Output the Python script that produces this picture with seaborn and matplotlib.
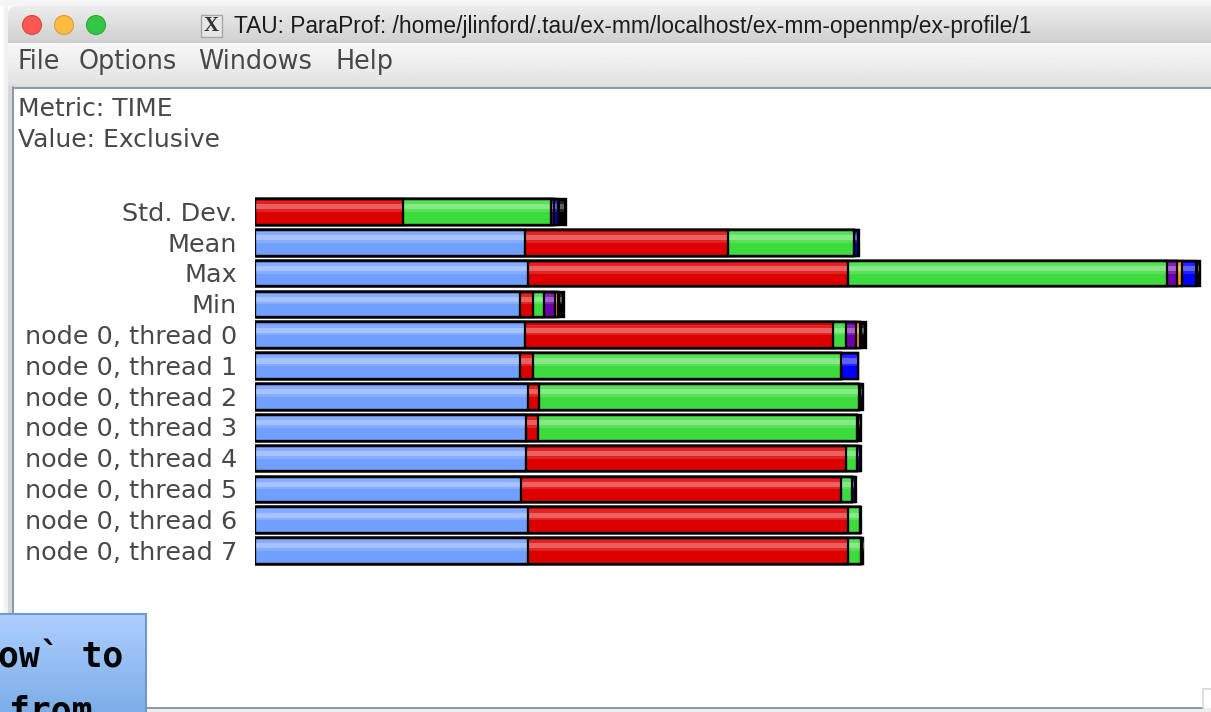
import numpy as np
import matplotlib
matplotlib.use("Agg")
import matplotlib.pyplot as plt
from matplotlib.patches import Rectangle, FancyBboxPatch, Circle
from matplotlib.transforms import ScaledTranslation
import seaborn as sns

# ---- data (segment lengths, one value per row) ----
labels = ["Std. Dev.", "Mean", "Max", "Min",
          "node 0, thread 0", "node 0, thread 1", "node 0, thread 2", "node 0, thread 3",
          "node 0, thread 4", "node 0, thread 5", "node 0, thread 6", "node 0, thread 7"]
periwinkle = [0, 270, 273, 265, 270, 265, 273, 271, 271, 266, 273, 273]
red        = [148, 203, 320, 13, 308, 13, 11, 12, 320, 320, 320, 320]
green      = [148, 126, 319, 11, 13, 308, 320, 319, 11, 11, 12, 13]
purple     = [3, 0, 10, 11, 10, 0, 0, 0, 0, 0, 0, 0]
orange     = [0, 0, 5, 3, 4, 0, 0, 0, 0, 0, 0, 0]
blue       = [4, 4, 14, 0, 0, 17, 0, 0, 3, 3, 0, 0]
black      = [8, 1, 4, 6, 6, 0, 4, 4, 1, 1, 1, 2]
series = [periwinkle, red, green, purple, orange, blue, black]
colors = ["#719FFF", "#DD0000", "#3EDB3E", "#6E00AA", "#FF9A00", "#0000FF", "#000000"]

title_text = "TAU: ParaProf: /home/jlinford/.tau/ex-mm/localhost/ex-mm-openmp/ex-profile/1"
menu_items = ["File", "Options", "Windows", "Help"]
metric_lines = ["Metric: TIME", "Value: Exclusive"]
note_lines = ["ow`\u00a0to", "from"]

W, H = 1211, 712
TEXT = "#484848"
sns.set_theme(style="white")
plt.rcParams["font.family"] = ["DejaVu Sans"]
fig = plt.figure(figsize=(W / 100, H / 100), dpi=100, facecolor="white")

# ---- window chrome, in pixel coordinates ----
bg = fig.add_axes([0, 0, 1, 1], zorder=0)
bg.set_xlim(0, W); bg.set_ylim(H, 0); bg.axis("off")
bg.add_patch(Rectangle((0, 0), W, 6, fc="#F6F6F6", ec="none", zorder=0))
bg.add_patch(Rectangle((4, 6), 4, 706, fc="#F2F2F2", ec="none", zorder=0))
window = FancyBboxPatch((8, 6), W + 30, H + 30, boxstyle="round,pad=0,rounding_size=10",
                        fc="#D8D8D8", ec="none", zorder=1)
bg.add_patch(window)
def grad(y0, y1, c0, c1, x0=8, x1=W):
    g = np.linspace(c0, c1, 32).reshape(-1, 1)
    im = bg.imshow(g, extent=(x0, x1, y1, y0), cmap="gray", vmin=0, vmax=1, aspect="auto", zorder=1)
    im.set_clip_path(window)
grad(6, 43, 0.925, 0.815)
grad(43, 82, 0.97, 0.895)
grad(82, 87, 0.90, 0.86)
bg.add_patch(Rectangle((13, 88), W - 13, 620, fc="white", ec="none", zorder=2))
bg.plot([13, W], [87.5, 87.5], color="#8A98AC", lw=1.4, zorder=3)
bg.plot([13, 13], [87, 708], color="#8A98AC", lw=1.4, zorder=3)
bg.plot([13, 1203], [707.5, 707.5], color="#8A98AC", lw=1.4, zorder=3)
bg.add_patch(Rectangle((8, 708), W, 4, fc="#EDEDED", ec="none", zorder=2))
bg.plot([1203, 1203, W], [708, 689, 689], color="#D8D8D8", lw=1.2, zorder=3)
for cx, fc, ec in [(32, "#FC5753", "#DF4744"), (64, "#FDBC40", "#DE9F34"), (96, "#33C748", "#27AA35")]:
    bg.add_patch(Circle((cx, 25), 9.5, fc=fc, ec=ec, lw=0.8, zorder=4))
bg.add_patch(Rectangle((201, 15), 21, 22, fc="#E6E6E6", ec="#A8A8A8", lw=1, zorder=4))
bg.text(211.5, 26, "X", ha="center", va="center", fontsize=15, family="Liberation Serif",
        fontweight="bold", color="#333333", zorder=5)
bg.text(234, 26, title_text, ha="left", va="center", fontsize=16.4, family="Liberation Sans",
        color="#1C1C1C", zorder=5)
for x, t in zip([18, 79, 198, 335], menu_items):
    bg.text(x, 62, t, ha="left", va="center", fontsize=18.4, color=TEXT, zorder=5)
for y, t in zip([109, 140], metric_lines):
    bg.text(18, y, t, ha="left", va="center", fontsize=18, color=TEXT, zorder=5)

# ---- tooltip box cut off by the image edge ----
g = np.linspace(0, 1, 64).reshape(-1, 1, 1) * (np.array([0.49, 0.68, 0.91]) - np.array([0.68, 0.81, 1.0])) + np.array([0.68, 0.81, 1.0])
bg.imshow(g, extent=(0, 146, H, 614), aspect="auto", zorder=6)
bg.add_patch(Rectangle((-3, 614), 149, 110, fc="none", ec="#6C9BCB", lw=1.5, zorder=7))
for x, y, t in zip([-2, 9], [657, 711], note_lines):
    bg.text(x, y, t, ha="left", va="center", fontsize=25, fontweight="bold",
            family="DejaVu Sans Mono", color="#050505", zorder=8, clip_on=True)
bg.set_xlim(0, W); bg.set_ylim(H, 0)

# ---- chart ----
px_left, px_right = 255, 1205
px_top, px_bottom = 190, 580
row0, step = 212, 30.82
ax = fig.add_axes([px_left / W, 1 - px_bottom / H, (px_right - px_left) / W, (px_bottom - px_top) / H], zorder=2)
ax.patch.set_alpha(0)

cum = np.cumsum(np.array(series, dtype=float), axis=0)
for i in range(len(series) - 1, -1, -1):
    sns.barplot(x=cum[i], y=labels, order=labels, orient="h", color=colors[i], saturation=1,
                width=0.83, edgecolor="black", linewidth=1.7, ax=ax)

# glossy strip inside every segment, taken from the drawn bars
n_rows, n_series = len(labels), len(series)
patches = list(ax.patches)
for s in range(n_series):
    # bars were drawn longest-first, so series s sits at block (n_series - 1 - s)
    block = patches[(n_series - 1 - s) * n_rows:(n_series - s) * n_rows]
    prev = patches[(n_series - s) * n_rows:(n_series - s + 1) * n_rows] if s > 0 else [None] * n_rows
    for p, q in zip(block, prev):
        start = q.get_width() if q is not None else 0.0
        end = p.get_width()
        if end - start < 1:
            continue
        inset = 2.0 if s == n_series - 1 else 1.0
        y, h = p.get_y(), p.get_height()
        x0, wd = start + inset, max(end - start - 2 * inset, 0.6)
        ax.add_patch(Rectangle((x0, y + 0.2 * h), wd, 0.2 * h, fc="white", ec="none",
                               alpha=0.38, zorder=5))
        ax.add_patch(Rectangle((x0, y + 0.08 * h), wd, 0.12 * h, fc="white", ec="none",
                               alpha=0.14, zorder=5))
        ax.add_patch(Rectangle((x0, y + 0.4 * h), wd, 0.1 * h, fc="white", ec="none",
                               alpha=0.14, zorder=5))

ax.set_xlim(0, px_right - px_left)
ax.set_ylim((px_bottom - row0) / step, (px_top - row0) / step)
ax.set_xlabel(""); ax.set_ylabel("")
ax.xaxis.set_visible(False)
sns.despine(ax=ax, left=True, bottom=True, top=True, right=True)
ax.tick_params(axis="y", length=0, pad=13, labelsize=18.35, labelcolor=TEXT)
shift = ScaledTranslation(0, 0.8 / 100, fig.dpi_scale_trans)
for lab in ax.get_yticklabels():
    lab.set_transform(lab.get_transform() + shift)

fig.savefig("out.png", dpi=100)
